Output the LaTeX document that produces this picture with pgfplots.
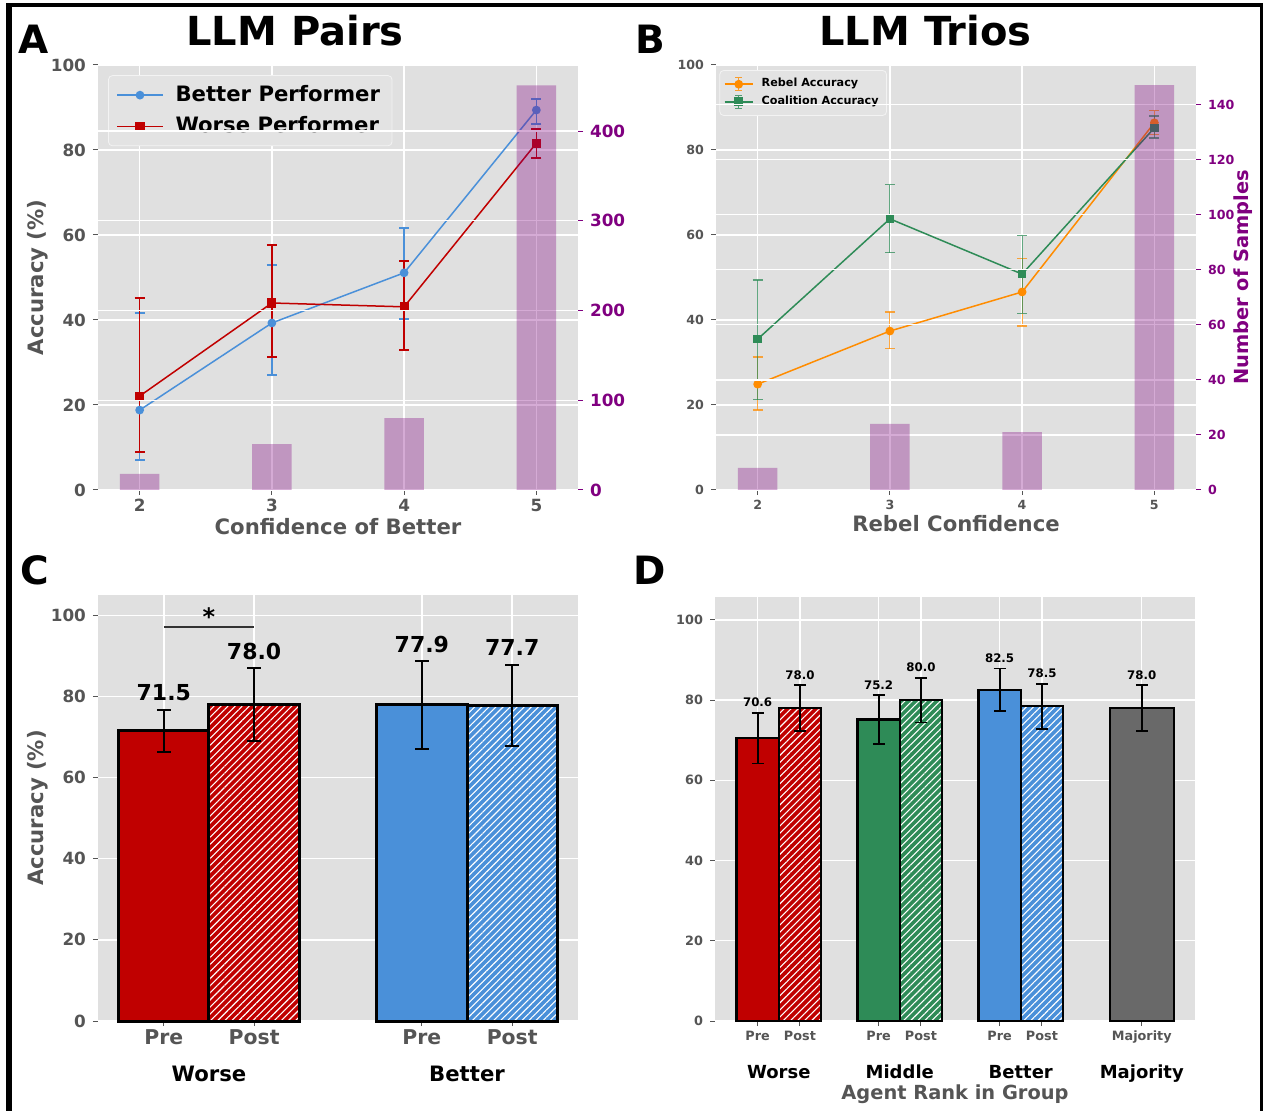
\documentclass[border=0pt]{standalone}
\usepackage{fontspec}
\setmainfont{DejaVu Sans}
\usepackage{pgfplots}
\pgfplotsset{compat=1.18}
\usetikzlibrary{patterns.meta}
\definecolor{bgc}{HTML}{E0E0E0}
\definecolor{legbg}{HTML}{E3E3E3}
\definecolor{tickc}{HTML}{555555}
\definecolor{cred}{HTML}{C00000}
\definecolor{cblue}{HTML}{4A90D9}
\definecolor{cgreen}{HTML}{2E8B57}
\definecolor{cgray}{HTML}{696969}
\definecolor{corange}{HTML}{FF8C00}
\definecolor{cpurple}{HTML}{800080}
\newcommand{\fs}[1]{\bfseries\fontsize{#1}{#1}\selectfont}
\pgfplotsset{
 gg/.style={
   scale only axis, anchor=south west,
   axis background/.style={fill=bgc},
   axis line style={draw=none},
   major grid style={white, line width=0.7pt},
   tick style={tickc, line width=0.5pt},
   major tick length=2.5pt,
   tick align=outside,
   /pgf/number format/assume math mode=true,
   tick label style={font=\fs{8.4}, text=tickc},
   label style={font=\fs{10.6}, text=tickc},
 },
 errs/.style={/pgfplots/error bars/y dir=both, /pgfplots/error bars/y explicit},
 hatch/.style={postaction={pattern={Lines[angle=45,distance=2.5pt,line width=0.55pt]}, pattern color=white}},
 mylegimg/.style={legend image code/.code={\draw[mark repeat=2,mark phase=2,##1] plot coordinates {(0cm,0cm) (#1/2,0cm) (#1,0cm)};}},
 errlegimg/.style={legend image code/.code={%
   \draw[##1] (0cm,0cm) -- (0.5cm,0cm);
   \draw[##1, line width=0.5pt, opacity=0.8] (0.25cm,-0.11cm) -- (0.25cm,0.11cm) (0.19cm,-0.11cm) -- (0.31cm,-0.11cm) (0.19cm,0.11cm) -- (0.31cm,0.11cm);
   \draw[##1, only marks] plot coordinates {(0.25cm,0cm)};}},
}
\begin{document}
\begin{tikzpicture}
% ---------------- Panel A ----------------
\begin{axis}[gg, at={(49pt,-245pt)}, width=240pt, height=212.5pt,
  xmin=1.685, xmax=5.315, ymin=0, ymax=100,
  xtick={2,3,4,5}, ytick={0,20,40,60,80,100}, tick pos=left, grid=major,
  xticklabel style={yshift=1.5pt},
  xlabel={Confidence of Better}, ylabel={Accuracy (\%)},
  xlabel style={at={(axis description cs:0.5,-0.085)}, anchor=center},
  ylabel style={at={(axis description cs:-0.125,0.5)}, anchor=center},
  mylegimg=0.8cm,
  legend style={at={(0.021,0.976)}, anchor=north west, fill=legbg, draw=white!60!bgc, rounded corners=2pt, font=\fs{10.6}, row sep=2pt, column sep=4pt, inner xsep=4pt, inner ysep=3pt},
  legend cell align=left,
]
\addplot[color=cblue, line width=0.75pt, mark=*, mark size=1.8pt, errs, error bars/error bar style={color=cblue, line width=0.8pt}, error bars/error mark options={color=cblue, rotate=90, mark size=2.5pt, line width=0.8pt}]
 coordinates {(2,18.8) += (0,22.8) -= (0,11.7) (3,39.3) += (0,13.6) -= (0,12.2) (4,51.1) += (0,10.5) -= (0,10.9) (5,89.4) += (0,2.6) -= (0,3.3)};
\addlegendentry{Better Performer}
\addplot[color=cred, line width=0.75pt, mark=square*, mark size=1.9pt, errs, error bars/error bar style={color=cred, line width=0.8pt}, error bars/error mark options={color=cred, rotate=90, mark size=2.5pt, line width=0.8pt}]
 coordinates {(2,22.1) += (0,23.1) -= (0,13.2) (3,44.0) += (0,13.6) -= (0,12.7) (4,43.1) += (0,10.8) -= (0,10.2) (5,81.6) += (0,3.3) -= (0,3.5)};
\addlegendentry{Worse Performer}
\end{axis}
\begin{axis}[gg, at={(49pt,-245pt)}, width=240pt, height=212.5pt,
  axis background/.style={},
  xmin=1.685, xmax=5.315, ymin=0, ymax=473.6,
  axis x line=none, axis y line*=right,
  ytick={0,100,200,300,400}, ymajorgrids,
  y tick style={cpurple}, yticklabel style={text=cpurple},
]
\addplot[ybar, bar width=0.3, bar shift=0pt, fill=cpurple, fill opacity=0.33, draw=none] coordinates {(2,18) (3,51) (4,80) (5,451)};
\end{axis}
% ---------------- Panel B ----------------
\begin{axis}[gg, at={(358pt,-245pt)}, width=240pt, height=212.5pt,
  xmin=1.685, xmax=5.315, ymin=0, ymax=100,
  xtick={2,3,4,5}, ytick={0,20,40,60,80,100}, tick pos=left, grid=major,
  tick label style={font=\fs{6.3}},
  xticklabel style={yshift=1pt},
  xlabel={Rebel Confidence},
  xlabel style={at={(axis description cs:0.5,-0.078)}, anchor=center},
  errlegimg,
  legend style={at={(0.007,0.988)}, anchor=north west, fill=legbg, draw=white!60!bgc, rounded corners=2pt, font=\fs{5.6}, row sep=-1pt, column sep=2pt, inner sep=2pt},
  legend cell align=left,
]
\addplot[color=corange, line width=0.75pt, mark=*, mark size=1.8pt, errs, error bars/error bar style={color=corange, line width=0.6pt, opacity=0.75}, error bars/error mark options={color=corange, rotate=90, opacity=0.75, mark size=2.5pt, line width=0.6pt}]
 coordinates {(2,24.9) += (0,6.4) -= (0,6.1) (3,37.4) += (0,4.5) -= (0,4.2) (4,46.6) += (0,7.8) -= (0,8.0) (5,86.4) += (0,2.8) -= (0,2.8)};
\addlegendentry{Rebel Accuracy}
\addplot[color=cgreen, line width=0.75pt, mark=square*, mark size=1.8pt, errs, error bars/error bar style={color=cgreen, line width=0.6pt, opacity=0.75}, error bars/error mark options={color=cgreen, rotate=90, opacity=0.75, mark size=2.5pt, line width=0.6pt}]
 coordinates {(2,35.5) += (0,13.9) -= (0,14.3) (3,63.8) += (0,8.0) -= (0,8.0) (4,50.8) += (0,9.0) -= (0,9.2) (5,85.2) += (0,2.8) -= (0,2.4)};
\addlegendentry{Coalition Accuracy}
\end{axis}
\begin{axis}[gg, at={(358pt,-245pt)}, width=240pt, height=212.5pt,
  axis background/.style={},
  xmin=1.685, xmax=5.315, ymin=0, ymax=154.35,
  axis x line=none, axis y line*=right,
  ytick={0,20,40,60,80,100,120,140}, ymajorgrids,
  tick label style={font=\fs{6.3}},
  y tick style={cpurple}, yticklabel style={text=cpurple},
  ylabel={Number of Samples},
  ylabel style={at={(axis description cs:1.098,0.5)}, anchor=center, text=cpurple, font=\fs{9.7}},
]
\addplot[ybar, bar width=0.3, bar shift=0pt, fill=cpurple, fill opacity=0.33, draw=none] coordinates {(2,8) (3,24) (4,21) (5,147)};
\end{axis}
% ---------------- Panel C ----------------
\begin{axis}[gg, at={(49pt,-510.5pt)}, width=240pt, height=213pt, clip=false,
  xmin=-0.43, xmax=1.43, ymin=0, ymax=105,
  xtick={-0.175,0.175,0.825,1.175}, xticklabels={Pre,Post,Pre,Post},
  ytick={0,20,40,60,80,100}, tick pos=left, grid=major,
  xticklabel style={font=\fs{10.2}, yshift=1.5pt},
  ylabel={Accuracy (\%)},
  ylabel style={at={(axis description cs:-0.125,0.5)}, anchor=center},
  cbar/.style={ybar, bar width=0.35, bar shift=0pt, draw=black, line width=1.5pt, errs, error bars/error bar style={black, line width=1pt}, error bars/error mark options={black, rotate=90, mark size=3.5pt, line width=1pt}},
]
\addplot[cbar, fill=cred] coordinates {(-0.175,71.5) += (0,5.2) -= (0,5.2)};
\addplot[cbar, fill=cred, hatch] coordinates {(0.175,78.0) += (0,9.0) -= (0,9.0)};
\addplot[cbar, fill=cblue] coordinates {(0.825,77.9) += (0,10.8) -= (0,10.8)};
\addplot[cbar, fill=cblue, hatch] coordinates {(1.175,77.7) += (0,10.1) -= (0,10.0)};
\begin{scope}[every node/.style={font=\fs{11}, text=black, anchor=base, inner sep=0pt, yshift=4.5pt}]
\node at (axis cs:-0.175,76.7) {71.5};
\node at (axis cs:0.175,87.0) {78.0};
\node at (axis cs:0.825,88.7) {77.9};
\node at (axis cs:1.175,87.8) {77.7};
\end{scope}
\draw[black!80, line width=1pt] (axis cs:-0.175,97) -- (axis cs:0.175,97);
\node[font=\fs{12}, anchor=base, inner sep=0pt] at (axis cs:0,97.6) {*};
\node[font=\fs{10.6}, anchor=base, inner sep=0pt] at (axis cs:0,0) [yshift=-30pt] {Worse};
\node[font=\fs{10.6}, anchor=base, inner sep=0pt] at (axis cs:1,0) [yshift=-30pt] {Better};
\end{axis}
% ---------------- Panel D ----------------
\begin{axis}[gg, at={(357.5pt,-510.5pt)}, width=240pt, height=212pt, clip=false,
  xmin=-0.527, xmax=3.44, ymin=0, ymax=105.7,
  xtick={-0.175,0.175,0.825,1.175,1.825,2.175,3}, xticklabels={Pre,Post,Pre,Post,Pre,Post,Majority},
  ytick={0,20,40,60,80,100}, tick pos=left, grid=major,
  tick label style={font=\fs{6.4}},
  xticklabel style={yshift=1pt},
  xlabel={Agent Rank in Group},
  xlabel style={at={(axis description cs:0.5,-0.172)}, anchor=center, font=\fs{9.7}},
  dbar/.style={ybar, bar width=0.35, bar shift=0pt, draw=black, line width=1.2pt, errs, error bars/error bar style={black, line width=0.9pt}, error bars/error mark options={black, rotate=90, mark size=3pt, line width=0.9pt}},
]
\addplot[dbar, fill=cred] coordinates {(-0.175,70.6) += (0,6.2) -= (0,6.4)};
\addplot[dbar, fill=cred, hatch] coordinates {(0.175,78.0) += (0,5.7) -= (0,5.7)};
\addplot[dbar, fill=cgreen] coordinates {(0.825,75.2) += (0,6.0) -= (0,6.1)};
\addplot[dbar, fill=cgreen, hatch] coordinates {(1.175,80.0) += (0,5.6) -= (0,5.6)};
\addplot[dbar, fill=cblue] coordinates {(1.825,82.5) += (0,5.4) -= (0,5.3)};
\addplot[dbar, fill=cblue, hatch] coordinates {(2.175,78.5) += (0,5.6) -= (0,5.7)};
\addplot[dbar, fill=cgray, bar width=0.53, line width=1pt] coordinates {(3,78.0) += (0,5.7) -= (0,5.7)};
\begin{scope}[every node/.style={font=\fs{5.9}, text=black, anchor=base, inner sep=0pt, yshift=3pt}]
\node at (axis cs:-0.175,76.8) {70.6};
\node at (axis cs:0.175,83.7) {78.0};
\node at (axis cs:0.825,81.2) {75.2};
\node at (axis cs:1.175,85.6) {80.0};
\node at (axis cs:1.825,87.9) {82.5};
\node at (axis cs:2.175,84.1) {78.5};
\node at (axis cs:3,83.7) {78.0};
\end{scope}
\begin{scope}[every node/.style={font=\fs{9}, text=black, anchor=base, inner sep=0pt, yshift=-28.5pt}]
\node at (axis cs:0,0) {Worse};
\node at (axis cs:1,0) {Middle};
\node at (axis cs:2,0) {Better};
\node at (axis cs:3,0) {Majority};
\end{scope}
\end{axis}
% ---------------- titles, letters, frame ----------------
\node[font=\fs{20}] at (147.5pt,-15.5pt) {LLM Pairs};
\node[font=\fs{20}] at (462.75pt,-15.5pt) {LLM Trios};
\node[font=\fs{19.5}] at (17pt,-19.75pt) {A};
\node[font=\fs{19.5}] at (325pt,-19.5pt) {B};
\node[font=\fs{19.5}] at (17.5pt,-285.25pt) {C};
\node[font=\fs{19.5}] at (325pt,-285.25pt) {D};
\fill[black] (3pt,-1.65pt) rectangle (631.5pt,-3.4pt);
\fill[black] (3pt,-1.65pt) rectangle (6pt,-555.5pt);
\fill[black] (629.85pt,-1.65pt) rectangle (631.5pt,-555.5pt);
\pgfresetboundingbox
\path[use as bounding box] (0,0) rectangle (631.5pt,-555.5pt);
\end{tikzpicture}
\end{document}
